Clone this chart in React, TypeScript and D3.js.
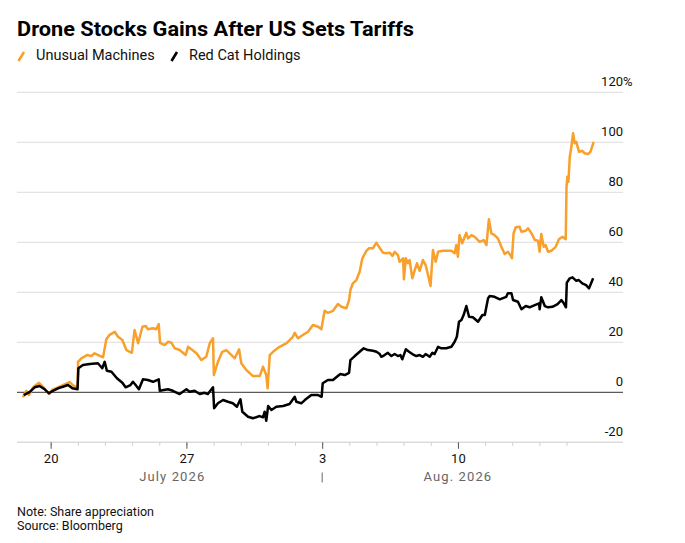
import { useRef, useEffect } from "react";
import * as d3 from "d3";

// x = trading-session position (0 = open of Mon Jul 20, one unit per session), y = % share appreciation
const unusualMachines: [number, number][] = [
  [-1.02, -2.0], [-0.9, 0.6], [-0.8, -1.1], [-0.65, 2.0], [-0.43, 3.8], [-0.28, 2.2], [-0.06, -0.7],
  [0.08, 1.2], [0.27, 2.0], [0.45, 2.9], [0.7, 4.1], [0.85, 2.5], [0.99, 2.0],
  [1.01, 12.2], [1.13, 13.6], [1.34, 14.9], [1.5, 14.5], [1.62, 15.6], [1.93, 14.0],
  [2.05, 21.2], [2.17, 23.0], [2.36, 24.2], [2.48, 22.2], [2.64, 20.9], [2.79, 16.9], [2.99, 15.8],
  [3.09, 24.9], [3.22, 19.6], [3.38, 26.2], [3.5, 26.5], [3.58, 25.2], [3.77, 25.6], [3.89, 25.2], [3.98, 27.3],
  [4.03, 19.8], [4.2, 18.9], [4.32, 20.2], [4.45, 19.8], [4.57, 17.6], [4.75, 16.9], [4.97, 14.9],
  [5.06, 18.2], [5.18, 17.2], [5.37, 15.6], [5.55, 12.9], [5.73, 14.2], [5.86, 19.6], [5.98, 21.6],
  [6.01, 6.9], [6.16, 12.2], [6.32, 16.2], [6.47, 16.9], [6.66, 14.9], [6.78, 13.6], [6.94, 17.2],
  [7.02, 11.6], [7.21, 8.9], [7.45, 6.5], [7.7, 6.5], [7.82, 10.2], [7.94, 6.9], [7.99, 1.6],
  [8.07, 14.9], [8.19, 16.2], [8.43, 18.2], [8.68, 19.6], [8.92, 22.2], [8.99, 23.8],
  [9.11, 21.6], [9.29, 22.9], [9.48, 24.2], [9.66, 26.9], [9.85, 26.2], [9.97, 25.2],
  [10.09, 32.6], [10.21, 31.8], [10.4, 32.6], [10.58, 35.3], [10.71, 34.2], [10.89, 33.6], [10.99, 36.9],
  [11.04, 40.9], [11.13, 43.6], [11.26, 44.9], [11.38, 48.2], [11.48, 53.6], [11.63, 56.6], [11.72, 57.6], [11.87, 57.6],
  [12.0, 59.8], [12.09, 58.2], [12.24, 55.8], [12.36, 55.6], [12.49, 55.8], [12.59, 54.5], [12.67, 56.2], [12.79, 54.9], [12.85, 52.2], [12.98, 53.6],
  [13.01, 45.2], [13.08, 53.6], [13.16, 51.6], [13.22, 52.9], [13.32, 45.6], [13.41, 48.9], [13.49, 51.6], [13.59, 48.6], [13.71, 52.9], [13.81, 50.9], [13.9, 46.9], [13.99, 42.5],
  [14.08, 56.9], [14.18, 52.2], [14.27, 56.2], [14.45, 56.6], [14.76, 56.6], [14.88, 55.6], [14.94, 58.9], [15.0, 54.2],
  [15.06, 62.9], [15.16, 59.6], [15.25, 62.2], [15.31, 63.8], [15.37, 61.6], [15.5, 62.9], [15.62, 62.2], [15.8, 60.2], [15.95, 60.9],
  [16.05, 58.9], [16.14, 69.2], [16.23, 63.6], [16.35, 62.9], [16.47, 61.6], [16.6, 58.2], [16.72, 55.3], [16.84, 56.2], [16.93, 54.9], [16.99, 53.6],
  [17.05, 63.6], [17.13, 66.0], [17.27, 66.2], [17.34, 64.2], [17.5, 64.6], [17.58, 65.6], [17.71, 63.6], [17.83, 60.9], [17.95, 60.6],
  [18.01, 56.2], [18.07, 63.3], [18.16, 58.2], [18.23, 58.9], [18.32, 56.2], [18.44, 56.6], [18.6, 58.2], [18.72, 61.2], [18.85, 62.2], [18.97, 61.2],
  [19.0, 82.2], [19.03, 86.2], [19.07, 84.2], [19.12, 94.2], [19.18, 98.2], [19.24, 103.6], [19.3, 99.6], [19.36, 100.2],
  [19.46, 96.2], [19.58, 96.6], [19.67, 95.6], [19.79, 95.3], [19.88, 96.2], [20.0, 100.2],
];

const redCatHoldings: [number, number][] = [
  [-0.99, -1.1], [-0.77, 0.2], [-0.59, 2.0], [-0.41, 2.5], [-0.22, 1.2], [-0.06, -0.4],
  [0.08, 0.6], [0.27, 1.6], [0.45, 2.2], [0.64, 2.9], [0.8, 1.6], [0.99, 1.2],
  [1.02, 9.6], [1.19, 10.9], [1.44, 11.3], [1.74, 11.6], [1.9, 9.6], [1.99, 12.2],
  [2.07, 8.6], [2.24, 8.2], [2.44, 5.6], [2.64, 3.8], [2.76, 2.0], [2.94, 2.9],
  [3.03, 4.2], [3.13, 2.9], [3.25, 1.2], [3.4, 5.2], [3.58, 4.9], [3.77, 4.2], [3.98, 5.2],
  [4.02, 0.6], [4.16, 0.9], [4.32, 1.2], [4.5, 0.6], [4.75, -0.7], [5.0, 1.2],
  [5.12, 0.2], [5.3, 0.6], [5.49, -0.7], [5.67, -0.2], [5.79, -0.7], [5.98, 2.0],
  [6.02, -6.4], [6.16, -4.4], [6.35, -3.1], [6.53, -3.8], [6.71, -4.4], [6.86, -5.8], [6.99, -2.8],
  [7.06, -7.8], [7.27, -9.8], [7.45, -10.4], [7.7, -9.5], [7.82, -10.0], [7.88, -7.8], [7.94, -11.4],
  [8.01, -5.5], [8.13, -7.1], [8.31, -5.8], [8.56, -5.5], [8.8, -4.7], [8.99, -1.8],
  [9.05, -3.8], [9.23, -4.4], [9.36, -3.1], [9.6, -1.1], [9.85, -1.1], [9.98, -1.8],
  [10.02, 3.6], [10.21, 4.9], [10.4, 4.9], [10.52, 6.0], [10.67, 7.3], [10.83, 6.9], [10.99, 7.8],
  [11.04, 12.9], [11.2, 14.5], [11.38, 16.2], [11.53, 17.6], [11.69, 16.9], [11.87, 16.6],
  [12.0, 16.2], [12.12, 15.3], [12.18, 14.2], [12.3, 14.9], [12.42, 15.8], [12.55, 14.5], [12.67, 15.3], [12.79, 14.5], [12.88, 14.9], [12.95, 13.2],
  [13.08, 17.2], [13.2, 16.2], [13.32, 15.3], [13.47, 14.5], [13.59, 14.9], [13.71, 14.2], [13.81, 15.3], [13.96, 14.2],
  [14.06, 15.8], [14.14, 15.3], [14.27, 18.2], [14.39, 17.6], [14.57, 17.6], [14.76, 18.2], [14.88, 20.2], [14.96, 22.2],
  [15.04, 28.2], [15.13, 28.9], [15.21, 30.9], [15.31, 34.5], [15.41, 30.2], [15.55, 30.0], [15.74, 28.2], [15.9, 30.9], [15.99, 30.9],
  [16.11, 37.6], [16.17, 38.5], [16.35, 38.2], [16.54, 37.2], [16.78, 38.2], [16.84, 39.6], [16.97, 39.6],
  [17.03, 36.9], [17.21, 36.2], [17.34, 33.2], [17.5, 34.5], [17.64, 34.0], [17.83, 34.9], [17.99, 35.6],
  [18.01, 33.2], [18.07, 38.0], [18.2, 34.5], [18.32, 34.0], [18.48, 34.2], [18.67, 35.3], [18.81, 36.9], [18.9, 35.6], [18.98, 34.0],
  [19.01, 43.8], [19.12, 45.6], [19.22, 46.0], [19.36, 44.6], [19.45, 44.9], [19.58, 43.6], [19.72, 42.9], [19.83, 41.6], [19.98, 45.6],
];

const seriesNames = ["Unusual Machines", "Red Cat Holdings"];
const seriesColors = ["#f9a02c", "#000000"];

const yTicks = [-20, 0, 20, 40, 60, 80, 100, 120];
const sessionTicks = [0, 1, 2, 3, 4, 5, 6, 7, 8, 9, 10, 11, 12, 13, 14, 15, 16, 17, 18, 19];
const dayTicks = [0, 5, 10, 15];
const dayTickLabels = ["20", "27", "3", "10"];
const monthLabels = ["July 2026", "Aug. 2026"];
const monthLabelPos = [4.48, 15];
const monthBreak = 10;

const FONT = "Roboto, 'Noto Sans', sans-serif";

export default function App() {
  const ref = useRef<SVGSVGElement>(null);

  useEffect(() => {
    const svg = d3.select(ref.current);
    svg.selectAll("*").remove();

    const left = 17;
    const right = 623;

    const x = d3.scaleLinear().domain([-1.24, 21.08]).range([left, right]);
    const y = d3.scaleLinear().domain([-20, 120]).range([442.3, 92.3]);

    svg.append("rect").attr("width", 685).attr("height", 543).attr("fill", "#fff");

    // title + legend
    svg.append("text")
      .attr("x", 17).attr("y", 36)
      .attr("font-family", FONT).attr("font-weight", 700).attr("font-size", 21)
      .attr("textLength", 397).attr("lengthAdjust", "spacingAndGlyphs")
      .text("Drone Stocks Gains After US Sets Tariffs");

    const legendX = [17, 170];
    seriesNames.forEach((name, i) => {
      const g = svg.append("g").attr("transform", `translate(${legendX[i]},0)`);
      g.append("line")
        .attr("x1", 1.5).attr("y1", 61).attr("x2", 7).attr("y2", 52)
        .attr("stroke", seriesColors[i]).attr("stroke-width", 2.6);
      g.append("text")
        .attr("x", 19).attr("y", 60)
        .attr("font-family", FONT).attr("font-size", 14.5).attr("fill", "#111")
        .text(name);
    });

    // gridlines
    const grid = svg.append("g");
    grid.selectAll("line")
      .data(yTicks)
      .join("line")
      .attr("x1", left).attr("x2", right)
      .attr("y1", d => y(d)).attr("y2", d => y(d))
      .attr("stroke", d => (d === 0 ? "#333" : "#dcdcdc"))
      .attr("stroke-width", d => (d === -20 ? 1.5 : 1));

    grid.selectAll("text.ylab")
      .data(yTicks)
      .join("text")
      .attr("class", "ylab")
      .attr("x", right).attr("y", d => y(d) - 6.5)
      .attr("text-anchor", "end")
      .attr("font-family", FONT).attr("font-size", 13).attr("fill", "#111")
      .text(d => String(d));
    svg.append("text")
      .attr("x", right).attr("y", y(120) - 6.5)
      .attr("font-family", FONT).attr("font-size", 13).attr("fill", "#111")
      .text("%");

    // x axis ticks
    const minorAxis = d3.axisBottom(x).tickValues(sessionTicks).tickSize(3.5).tickFormat(() => "");
    svg.append("g")
      .attr("transform", `translate(0,${y(-20)})`)
      .call(minorAxis)
      .call(g => g.select(".domain").remove())
      .call(g => g.selectAll(".tick line").attr("stroke", "#cfcfcf"));

    const majorAxis = d3.axisBottom(x).tickValues(dayTicks).tickSize(6.5).tickPadding(5)
      .tickFormat((_, i) => dayTickLabels[i]);
    svg.append("g")
      .attr("transform", `translate(0,${y(-20)})`)
      .call(majorAxis)
      .call(g => g.select(".domain").remove())
      .call(g => g.selectAll(".tick line").attr("stroke", "#555"))
      .call(g => g.selectAll(".tick text")
        .attr("font-family", FONT).attr("font-size", 13).attr("fill", "#111"));

    svg.selectAll("text.month")
      .data(monthLabels)
      .join("text")
      .attr("class", "month")
      .attr("x", (_, i) => x(monthLabelPos[i]))
      .attr("y", 481)
      .attr("text-anchor", "middle")
      .attr("font-family", FONT).attr("font-size", 13).attr("letter-spacing", 1.1)
      .attr("fill", "#666")
      .text(d => d);

    svg.append("line")
      .attr("x1", x(monthBreak)).attr("x2", x(monthBreak))
      .attr("y1", 472.5).attr("y2", 482.5)
      .attr("stroke", "#666").attr("stroke-width", 1);

    // series
    const line = d3.line<[number, number]>()
      .x(d => x(d[0]))
      .y(d => y(d[1]))
      .curve(d3.curveLinear);

    [unusualMachines, redCatHoldings].forEach((data, i) => {
      svg.append("path")
        .datum(data)
        .attr("fill", "none")
        .attr("stroke", seriesColors[i])
        .attr("stroke-width", 2.5)
        .attr("stroke-linejoin", "round")
        .attr("d", line);
    });

    // footer
    const notes = ["Note: Share appreciation", "Source: Bloomberg"];
    svg.selectAll("text.note")
      .data(notes)
      .join("text")
      .attr("class", "note")
      .attr("x", 17).attr("y", (_, i) => 516 + i * 14)
      .attr("font-family", FONT).attr("font-size", 12.5).attr("fill", "#111")
      .text(d => d);
  }, []);

  return (
    <svg
      ref={ref}
      width={685}
      height={543}
      style={{ position: "absolute", left: 0, top: 0, display: "block" }}
    />
  );
}
